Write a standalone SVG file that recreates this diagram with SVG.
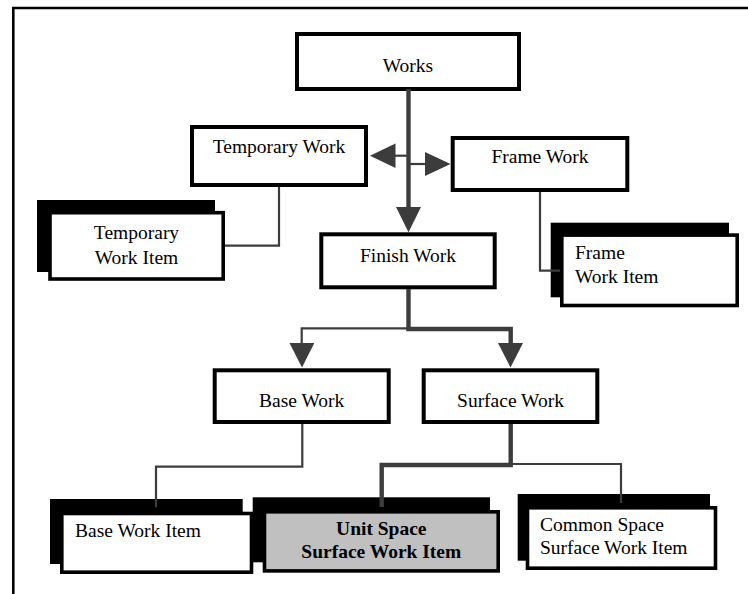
<svg xmlns="http://www.w3.org/2000/svg" width="748" height="594" viewBox="0 0 748 594">
  <style>
    .box { fill: #ffffff; stroke: #000000; stroke-width: 4; }
    .front { fill: #ffffff; stroke: #000000; stroke-width: 3.6; }
    .front-grey { fill: #c0c0c0; stroke: #000000; stroke-width: 3.6; }
    .shadow { fill: #000000; }
    .label { font-family: "Liberation Serif", "Times New Roman", serif; font-size: 19.5px; fill: #000000; }
    .mid { text-anchor: middle; }
    .bold { font-weight: bold; }
    .thin { fill: none; stroke: #3c3c3c; stroke-width: 2.2; }
    .thick { fill: none; stroke: #3c3c3c; stroke-width: 4.4; }
    .head { fill: #3c3c3c; }
  </style>

  <rect width="748" height="594" fill="#ffffff"/>

  <!-- outer frame (left and top edges) -->
  <path d="M13.3,594 V8 H748" fill="none" stroke="#000000" stroke-width="2.6"/>

  <g id="works">
    <rect class="box" x="297" y="34" width="222" height="55"/>
    <text class="label mid" x="408" y="71.5">Works</text>
  </g>

  <g id="temporary-work">
    <rect class="box" x="192" y="127" width="174" height="58"/>
    <text class="label mid" x="279" y="153.3">Temporary Work</text>
  </g>

  <g id="frame-work">
    <rect class="box" x="452.7" y="138" width="174.6" height="52"/>
    <text class="label mid" x="540" y="163.3">Frame Work</text>
  </g>

  <g id="finish-work">
    <rect class="box" x="321.3" y="234.3" width="173.4" height="53"/>
    <text class="label mid" x="408" y="261.7">Finish Work</text>
  </g>

  <g id="temporary-work-item">
    <rect class="shadow" x="37" y="200" width="178" height="72"/>
    <rect class="front" x="50" y="212.7" width="173.2" height="66.3"/>
    <text class="label mid" x="136.5" y="239.3">Temporary</text>
    <text class="label mid" x="136.5" y="264">Work Item</text>
  </g>

  <g id="frame-work-item">
    <rect class="shadow" x="550.7" y="222.7" width="178.3" height="74.6"/>
    <rect class="front" x="561.8" y="235.1" width="175.4" height="70.4"/>
    <text class="label" x="575" y="259.3">Frame</text>
    <text class="label" x="575" y="283.3">Work Item</text>
  </g>

  <g id="base-work">
    <rect class="box" x="214.7" y="370.3" width="174" height="51.7"/>
    <text class="label mid" x="301.7" y="406.7">Base Work</text>
  </g>

  <g id="surface-work">
    <rect class="box" x="423.7" y="370.3" width="173.6" height="51.7"/>
    <text class="label mid" x="510.5" y="406.7">Surface Work</text>
  </g>

  <g id="base-work-item">
    <rect class="shadow" x="50" y="499" width="192.7" height="65"/>
    <rect class="front" x="61.8" y="513.5" width="189.7" height="58.7"/>
    <text class="label" x="75" y="536.7">Base Work Item</text>
  </g>

  <g id="unit-space-surface-work-item">
    <rect class="shadow" x="252.7" y="497.3" width="237.3" height="65"/>
    <rect class="front-grey" x="264.5" y="511.8" width="233.7" height="59.1"/>
    <text class="label mid bold" x="381.3" y="535">Unit Space</text>
    <text class="label mid bold" x="381.3" y="558.3">Surface Work Item</text>
  </g>

  <g id="common-space-surface-work-item">
    <rect class="shadow" x="517.7" y="494" width="192.3" height="66.7"/>
    <rect class="front" x="527.5" y="507.8" width="188" height="60.4"/>
    <text class="label" x="540" y="531">Common Space</text>
    <text class="label" x="540" y="554">Surface Work Item</text>
  </g>

  <g id="connectors">
    <!-- Works to Finish Work, with side branches -->
    <line class="thick" x1="408.5" y1="89" x2="408.5" y2="209"/>
    <polygon class="head" points="396,207 421,207 408.5,232.3"/>
    <line class="thin" x1="408.5" y1="155.7" x2="394" y2="155.7"/>
    <polygon class="head" points="395.5,143.5 395.5,168 370,155.7"/>
    <line class="thin" x1="408.5" y1="164" x2="426" y2="164"/>
    <polygon class="head" points="425,152 425,176 450.5,164"/>

    <!-- Temporary Work to its item -->
    <polyline class="thin" points="279,187 279,245.7 225,245.7"/>
    <!-- Frame Work to its item -->
    <polyline class="thin" points="540,192 540,270.7 560,270.7"/>

    <!-- Finish Work to Base Work and Surface Work -->
    <polyline class="thin" points="408.5,328.3 301.7,328.3 301.7,345"/>
    <polygon class="head" points="289.5,343 314.3,343 302,367.6"/>
    <polyline class="thick" points="408.5,289 408.5,329 510.7,329 510.7,345"/>
    <polygon class="head" points="498,343 523,343 510.5,367.6"/>

    <!-- Base Work to its item -->
    <polyline class="thin" points="302.3,424 302.3,466.7 156,466.7 156,507.3"/>

    <!-- Surface Work to its items -->
    <polyline class="thin" points="510.7,464 621,464 621,503"/>
    <polyline class="thick" points="510.7,424 510.7,465 381.7,465 381.7,507"/>
  </g>
</svg>
